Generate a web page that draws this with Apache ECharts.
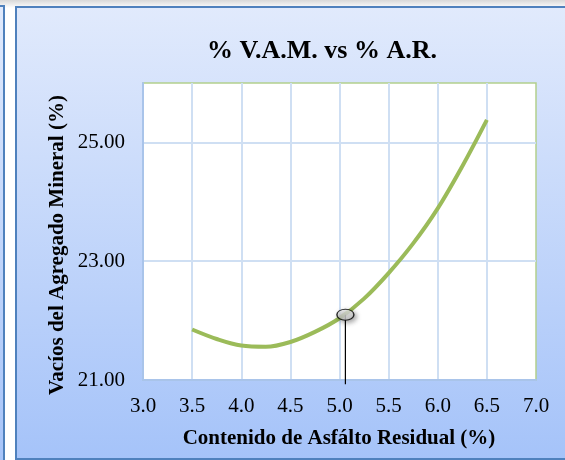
<!DOCTYPE html>
<html>
<head>
<meta charset="utf-8">
<script src="https://cdn.jsdelivr.net/npm/echarts@6/dist/echarts.min.js"></script>
<style>
html,body{margin:0;padding:0;background:#ffffff;}
#c{width:565px;height:460px;}
</style>
</head>
<body>
<div id="c"></div>
<script>
// Data
var titleText = '% V.A.M. vs % A.R.';
var xAxisName = 'Contenido de Asfálto Residual (%)';
var yAxisName = 'Vacíos del Agregado Mineral (%)';
var asphaltContent = [3.5, 3.75, 4.0, 4.25, 4.5, 4.75, 5.0, 5.25, 5.5, 5.75, 6.0, 6.25, 6.5];
var vamValues = [21.85, 21.69, 21.58, 21.56, 21.64, 21.81, 22.04, 22.37, 22.80, 23.30, 23.89, 24.60, 25.38];
var optimumX = 5.06;
var optimumY = 22.10;
var dropLineBottom = 20.93;
var xMin = 3, xMax = 7, xStep = 0.5;
var yMin = 21, yMax = 26, yStep = 2;

var serif = '"Liberation Serif", "Times New Roman", serif';
var chart = echarts.init(document.getElementById('c'), null, {renderer: 'canvas'});

var curveData = asphaltContent.map(function (x, i) { return [x, vamValues[i]]; });

var option = {
  animation: false,
  graphic: [
    { type: 'rect', z: -10, silent: true, shape: {x: 0, y: 0, width: 565, height: 8},
      style: {fill: new echarts.graphic.LinearGradient(0, 0, 0, 1, [{offset: 0, color: '#d8d8d8'}, {offset: 1, color: '#ffffff'}])} },
    { type: 'rect', z: -9, silent: true, shape: {x: -10, y: 6, width: 14, height: 470},
      style: {fill: new echarts.graphic.LinearGradient(0, 0, 0, 1, [{offset: 0, color: '#e1eafc'}, {offset: 1, color: '#a5c3f9'}]), stroke: '#4f81bd', lineWidth: 2} },
    { type: 'rect', z: -9, silent: true, shape: {x: 16, y: 7, width: 570, height: 452},
      style: {fill: new echarts.graphic.LinearGradient(0, 0, 0, 1, [{offset: 0, color: '#e1eafc'}, {offset: 1, color: '#a5c3f9'}]), stroke: '#4f81bd', lineWidth: 2} },
    { type: 'text', z: 10, silent: true, x: 322, y: 51,
      style: {text: titleText, font: 'bold 26px ' + serif, fill: '#000', textAlign: 'center', textVerticalAlign: 'middle'} },
    { type: 'text', z: 10, silent: true, x: 339, y: 439,
      style: {text: xAxisName, font: 'bold 21px ' + serif, fill: '#000', textAlign: 'center', textVerticalAlign: 'middle'} },
    { type: 'text', z: 10, silent: true, x: 58, y: 245, rotation: Math.PI / 2,
      style: {text: yAxisName, font: 'bold 21px ' + serif, fill: '#000', textAlign: 'center', textVerticalAlign: 'middle'} }
  ],
  grid: {
    left: 143, right: 29, top: 83, bottom: 80,
    show: true, backgroundColor: '#ffffff', borderColor: '#b3cf8d', borderWidth: 1.5
  },
  xAxis: {
    type: 'value', min: xMin, max: xMax, interval: xStep,
    axisLine: {show: true, lineStyle: {color: '#a9c4ea', width: 2}},
    axisTick: {show: false},
    axisLabel: {color: '#000', fontFamily: serif, fontSize: 21, margin: 16,
      formatter: function (v) { return v.toFixed(1); }},
    splitLine: {show: true, showMinLine: false, showMaxLine: false, lineStyle: {color: '#cfdff3', width: 2}}
  },
  yAxis: {
    type: 'value', min: yMin, max: yMax, interval: yStep,
    axisLine: {show: true, lineStyle: {color: '#a9c4ea', width: 2}},
    axisTick: {show: false},
    axisLabel: {color: '#000', fontFamily: serif, fontSize: 21, margin: 18, showMaxLabel: false,
      formatter: function (v) { return v === yMax ? '' : v.toFixed(2); }},
    splitLine: {show: true, showMinLine: false, showMaxLine: false, lineStyle: {color: '#cfdff3', width: 2}}
  },
  series: [
    {
      type: 'line', data: curveData, smooth: 0.35, symbol: 'none',
      lineStyle: {color: '#9bbb59', width: 4}, z: 3
    },
    {
      type: 'line', data: [[optimumX, optimumY], [optimumX, dropLineBottom]], symbol: 'none', clip: false,
      lineStyle: {color: '#000', width: 1.2}, z: 4
    },
    {
      type: 'scatter', data: [[optimumX, optimumY]], z: 5,
      symbol: 'path://M0,5 A8,5 0 1,0 16,5 A8,5 0 1,0 0,5 Z',
      symbolSize: [17, 11],
      itemStyle: {
        color: new echarts.graphic.LinearGradient(0, 0, 0, 1, [{offset: 0, color: '#f2f2f2'}, {offset: 1, color: '#c8c8c8'}]),
        borderColor: '#000', borderWidth: 1.2,
        shadowBlur: 5, shadowColor: 'rgba(0,0,0,0.45)', shadowOffsetX: 2, shadowOffsetY: 2
      }
    }
  ]
};
chart.setOption(option);
</script>
</body>
</html>
